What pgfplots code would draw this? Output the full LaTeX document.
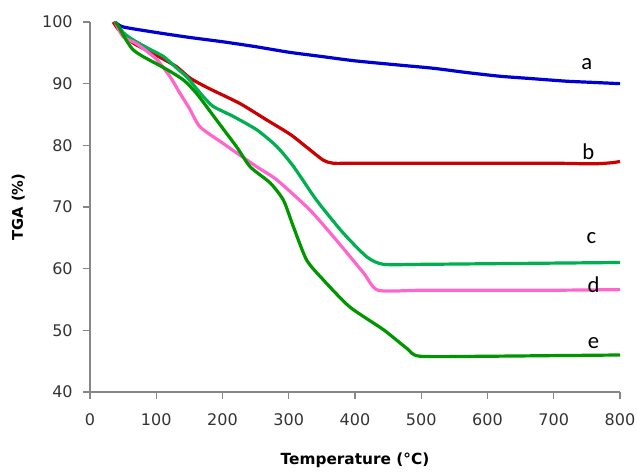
\documentclass[border=0pt]{standalone}
\usepackage{pgfplots}
\pgfplotsset{compat=1.18}
\usepackage{fontspec}
\setmainfont{DejaVu Sans}
\newfontfamily\lblfont{Carlito}
\definecolor{cA}{RGB}{0,0,210}
\definecolor{cB}{RGB}{204,0,0}
\definecolor{cC}{RGB}{0,176,80}
\definecolor{cD}{RGB}{255,102,204}
\definecolor{cE}{RGB}{0,150,0}
\definecolor{axgray}{RGB}{134,134,134}
\begin{document}
\begin{tikzpicture}
\begin{axis}[
  scale only axis,
  width=397.5pt, height=277.5pt,
  xmin=0, xmax=800, ymin=40, ymax=100,
  xtick={0,100,...,800}, ytick={40,50,...,100},
  axis x line*=bottom, axis y line*=left,
  axis line style={axgray, line width=0.8pt, -},
  tick style={axgray, line width=0.8pt},
  tick align=outside, major tick length=5pt,
  tick label style={font=\fontsize{12}{14}\selectfont, text=black!80},
  xticklabel style={yshift=-8pt},
  yticklabel style={xshift=-4.5pt},
  /pgf/number format/assume math mode=true,
  xlabel={\bfseries Temperature (°C)},
  ylabel={\bfseries TGA (\%)},
  xlabel style={font=\fontsize{11.5}{13}\selectfont, yshift=-13pt},
  ylabel style={font=\fontsize{11}{13}\selectfont, yshift=6pt},
  every axis plot/.append style={line width=2.4pt, smooth, tension=0.4},
  clip=false,
]
\addplot[cA] coordinates {(38,100)(50,99.2)(100,98.3)(150,97.5)(200,96.8)(250,96.0)(300,95.1)(350,94.4)(400,93.7)(468,93.0)(518,92.5)(569,91.8)(619,91.2)(669,90.8)(719,90.4)(760,90.2)(800,90.0)};
\addplot[cB] coordinates {(35,100)(45,98.5)(65,96.6)(100,94.6)(130,92.8)(151,90.9)(180,89.2)(226,86.8)(267,84.1)(302,81.8)(327,79.7)(352,77.6)(367,77.1)(400,77.1)(500,77.1)(600,77.1)(700,77.1)(760,77.0)(790,77.2)(800,77.4)};
\addplot[cC] coordinates {(38,100)(50,98.3)(65,97.1)(90,95.6)(111,94.4)(130,92.6)(146,91.1)(160,89.3)(171,87.9)(186,86.3)(216,84.7)(252,82.5)(282,79.8)(307,76.6)(342,71.1)(382,65.8)(418,61.9)(443,60.7)(500,60.7)(600,60.8)(700,60.9)(800,61.0)};
\addplot[cD] coordinates {(38,100)(50,97.6)(70,96.5)(100,94.0)(121,91.1)(136,88.4)(150,86)(166,83)(201,80.3)(252,76.5)(282,74.4)(332,69.5)(372,64.6)(413,59.3)(435,56.5)(500,56.5)(600,56.5)(700,56.5)(800,56.6)};
\addplot[cE] coordinates {(38,100)(43,99.3)(55,97)(65,95.5)(80,94.4)(116,92.3)(141,90.6)(161,88.4)(191,84.1)(221,79.8)(242,76.5)(272,73.9)(292,71.1)(307,66.8)(327,61.4)(352,58.2)(392,53.8)(443,50.1)(478,47.1)(498,45.8)(600,45.8)(700,45.9)(800,46.0)};
\node[font=\lblfont\fontsize{17}{19}\selectfont] at (axis cs:750,93.2) {a};
\node[font=\lblfont\fontsize{17}{19}\selectfont] at (axis cs:752,78.9) {b};
\node[font=\lblfont\fontsize{17}{19}\selectfont] at (axis cs:757,65.0) {c};
\node[font=\lblfont\fontsize{17}{19}\selectfont] at (axis cs:760,57.4) {d};
\node[font=\lblfont\fontsize{17}{19}\selectfont] at (axis cs:760,48.0) {e};
\coordinate (ll) at (rel axis cs:0,0);
\coordinate (ur) at (rel axis cs:1,1);
\end{axis}
\pgfresetboundingbox
\useasboundingbox ([shift={(-67.5pt,-60pt)}]ll) rectangle ([shift={(12.75pt,16.5pt)}]ur);
\end{tikzpicture}
\end{document}
